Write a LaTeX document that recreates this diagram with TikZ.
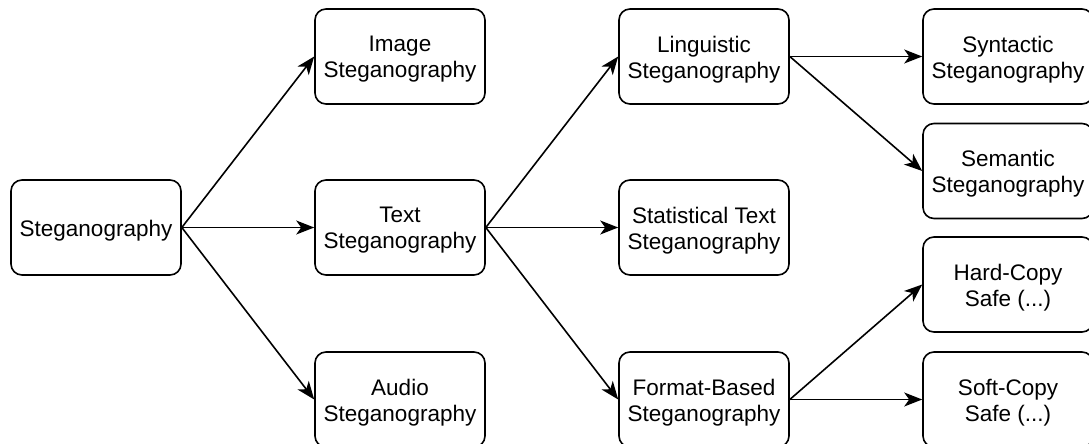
\documentclass[tikz,border=0pt]{standalone}
\usepackage{fontspec}
\setmainfont{Liberation Sans}
\usetikzlibrary{arrows.meta}
\begin{document}
\begin{tikzpicture}[x=1pt,y=-1pt,
  box/.style={draw,line width=1.6pt,rounded corners=11pt,minimum width=170pt,minimum height=95pt,inner sep=0pt},
  lab/.style={align=center,font=\fontsize{22.5}{26}\selectfont,inner sep=0pt,yshift=-3pt},
  arr/.style={line width=1.6pt,-{Stealth[length=18pt,width=14pt,inset=5pt]}}]
\useasboundingbox (0,0) rectangle (1089,444);
\node[box,label={[lab]center:Steganography}] (steg) at (96,227.5) {};
\node[box,label={[lab]center:{Image\\Steganography}}] (img) at (400,56.5) {};
\node[box,label={[lab]center:{Text\\Steganography}}] (txt) at (400,227.5) {};
\node[box,label={[lab]center:{Audio\\Steganography}}] (aud) at (400,399.5) {};
\node[box,label={[lab]center:{Linguistic\\Steganography}}] (lin) at (704,56.5) {};
\node[box,label={[lab]center:{Statistical Text\\Steganography}}] (sta) at (704,227.5) {};
\node[box,label={[lab]center:{Format-Based\\Steganography}}] (fmt) at (704,399.5) {};
\node[box,label={[lab]center:{Syntactic\\Steganography}}] (syn) at (1008,56.5) {};
\node[box,label={[lab]center:{Semantic\\Steganography}}] (sem) at (1008,171) {};
\node[box,label={[lab]center:{Hard-Copy\\Safe (...)}}] (hard) at (1008,284.5) {};
\node[box,label={[lab]center:{Soft-Copy\\Safe (...)}}] (soft) at (1008,399.5) {};
\draw[arr] (steg.east) -- (img.west);
\draw[arr] (steg.east) -- (txt.west);
\draw[arr] (steg.east) -- (aud.west);
\draw[arr] (txt.east) -- (lin.west);
\draw[arr] (txt.east) -- (sta.west);
\draw[arr] (txt.east) -- (fmt.west);
\draw[arr] (lin.east) -- (syn.west);
\draw[arr] (lin.east) -- (sem.west);
\draw[arr] (fmt.east) -- (hard.west);
\draw[arr] (fmt.east) -- (soft.west);
\end{tikzpicture}
\end{document}
